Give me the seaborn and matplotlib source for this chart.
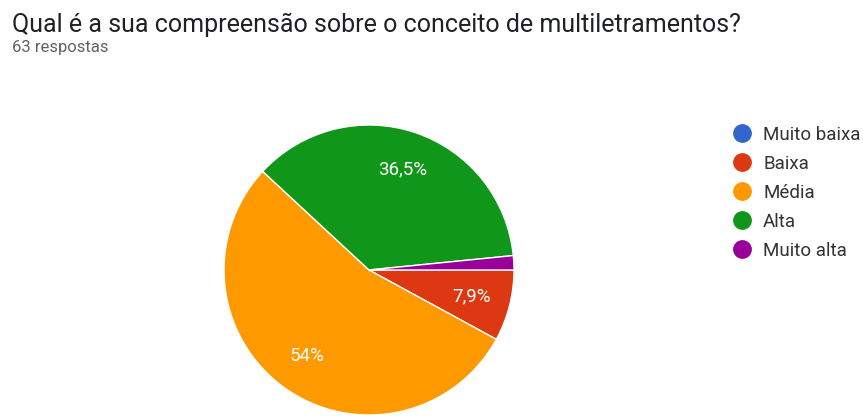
import matplotlib
matplotlib.use("Agg")
import matplotlib.pyplot as plt
from matplotlib.lines import Line2D
import seaborn as sns

# Survey answers (63 respostas)
categories = ["Muito baixa", "Baixa", "Média", "Alta", "Muito alta"]
counts = [0, 5, 34, 23, 1]
colors = ["#3366cc", "#dc3912", "#ff9900", "#109618", "#990099"]
title = "Qual é a sua compreensão sobre o conceito de multiletramentos?"
subtitle = "63 respostas"

sns.set_theme(style="white")
plt.rcParams["font.family"] = ["Roboto", "DejaVu Sans"]

W, H = 863, 416
fig = plt.figure(figsize=(W / 100, H / 100), dpi=100)
fig.patch.set_facecolor("white")


def pct_label(p):
    if p < 5:
        return ""
    s = f"{p:.1f}".rstrip("0").rstrip(".")
    return s.replace(".", ",") + "%"


# pie axes: centre (369, 270) px, radius 145 px
cx, cy, r = 369, 270, 145
ax = fig.add_axes([(cx - r) / W, (H - cy - r) / H, 2 * r / W, 2 * r / H])
wedges, texts, autotexts = ax.pie(
    counts,
    colors=colors,
    startangle=0,
    counterclock=False,
    autopct=pct_label,
    pctdistance=0.73,
    radius=1.0,
    wedgeprops=dict(edgecolor="white", linewidth=1.0),
    textprops=dict(color="white", fontsize=13.5),
)
ax.set_xlim(-1, 1)
ax.set_ylim(-1, 1)
ax.set_aspect("equal")
ax.axis("off")

fig.text(12 / W, 1 - 32 / H, title, fontsize=18, color="#202124",
         va="baseline", ha="left")
fig.text(12 / W, 1 - 52 / H, subtitle, fontsize=12, color="#5f6368",
         va="baseline", ha="left")

handles = [Line2D([], [], marker="o", linestyle="", markersize=12.5,
                  markerfacecolor=c, markeredgecolor=c) for c in colors]
fig.legend(handles, categories, loc="upper left",
           bbox_to_anchor=(733 / W, 1 - 126 / H),
           frameon=False, fontsize=13.5, handlelength=1.0, handletextpad=0.6,
           labelspacing=0.58, borderpad=0, borderaxespad=0,
           labelcolor="#333333")

fig.savefig("out.png", dpi=100, facecolor="white")
